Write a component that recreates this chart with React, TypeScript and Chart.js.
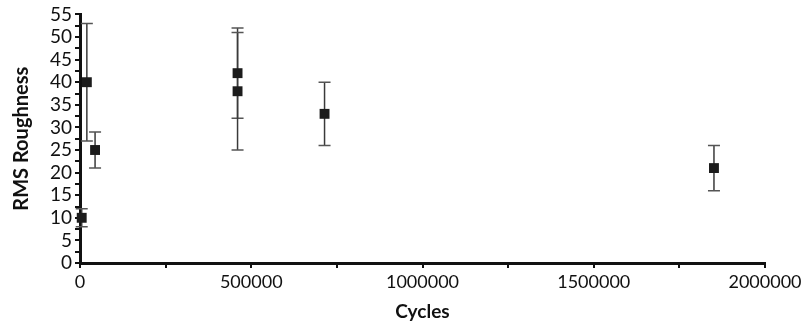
import React, { useEffect, useRef } from "react";
import { Chart, registerables } from "chart.js";

Chart.register(...registerables);

const cycles = [5000, 20000, 44000, 460000, 460000, 714000, 1851000];
const roughness = [10, 40, 25, 42, 38, 33, 21];
const errLow = [8, 27, 21, 32, 25, 26, 16];
const errHigh = [12, 53, 29, 52, 51, 40, 26];

const xTickStep = 250000;
const xLabelStep = 500000;
const yTickStep = 2.5;
const yLabelStep = 5;

const FONT = "Lato, 'DejaVu Sans', sans-serif";

const errorBarPlugin = {
  id: "errorBars",
  beforeDatasetsDraw(chart: any) {
    const { ctx, scales } = chart;
    const xs = scales.x;
    const ys = scales.y;
    ctx.save();
    for (let i = 0; i < cycles.length; i++) {
      const px = xs.getPixelForValue(cycles[i]);
      const pLo = ys.getPixelForValue(errLow[i]);
      const pHi = ys.getPixelForValue(errHigh[i]);
      ctx.strokeStyle = "#3a3a3a";
      ctx.lineWidth = 1.5;
      ctx.beginPath();
      ctx.moveTo(px, pLo);
      ctx.lineTo(px, pHi);
      ctx.stroke();
      ctx.strokeStyle = "#555";
      ctx.lineWidth = 1.5;
      ctx.beginPath();
      ctx.moveTo(px - 6, pLo);
      ctx.lineTo(px + 6, pLo);
      ctx.moveTo(px - 6, pHi);
      ctx.lineTo(px + 6, pHi);
      ctx.stroke();
    }
    ctx.restore();
  },
};

export default function App() {
  const ref = useRef<HTMLCanvasElement | null>(null);
  useEffect(() => {
    document.body.style.margin = "0";
    const canvas = ref.current;
    if (!canvas) return;
    const chart = new Chart(canvas, {
      type: "scatter",
      data: {
        datasets: [
          {
            data: cycles.map((c, i) => ({ x: c, y: roughness[i] })),
            pointStyle: "rect",
            pointRadius: 7,
            pointHoverRadius: 7,
            backgroundColor: "#1c1c1c",
            borderColor: "#1c1c1c",
            borderWidth: 0,
            clip: false,
          } as any,
        ],
      },
      options: {
        responsive: false,
        animation: false,
        layout: { padding: { left: 6, top: 14, right: 41, bottom: 3 } },
        plugins: {
          legend: { display: false },
          tooltip: { enabled: false },
        },
        scales: {
          x: {
            type: "linear",
            min: 0,
            max: 2000000,
            afterFit: (s: any) => {
              s.height = 64;
            },
            border: { display: true, color: "#111", width: 3 },
            grid: {
              display: true,
              drawOnChartArea: false,
              drawTicks: true,
              tickLength: 5,
              color: "#111",
              lineWidth: 2,
            },
            ticks: {
              stepSize: xTickStep,
              autoSkip: false,
              maxRotation: 0,
              color: "#111",
              padding: 3,
              font: { family: FONT, size: 18 },
              callback: (v: any) => (Number(v) % xLabelStep === 0 ? String(v) : ""),
            },
            title: {
              display: true,
              text: "Cycles",
              color: "#111",
              font: { family: FONT, size: 19, weight: "bold" },
              padding: { top: 2, bottom: 4 },
            },
          },
          y: {
            type: "linear",
            min: 0,
            max: 55,
            afterFit: (s: any) => {
              s.width = 74;
            },
            border: { display: true, color: "#111", width: 3 },
            grid: {
              display: true,
              drawOnChartArea: false,
              drawTicks: true,
              tickLength: 5,
              color: "#111",
              lineWidth: 2,
            },
            ticks: {
              stepSize: yTickStep,
              autoSkip: false,
              color: "#111",
              padding: 3,
              font: { family: FONT, size: 19 },
              callback: (v: any) => (Number(v) % yLabelStep === 0 ? String(v) : ""),
            },
            title: {
              display: true,
              text: "RMS Roughness",
              color: "#111",
              font: { family: FONT, size: 20, weight: "bold" },
              padding: { top: 4, bottom: 4 },
            },
          },
        },
      },
      plugins: [errorBarPlugin],
    });
    return () => chart.destroy();
  }, []);
  return (
    <div style={{ width: 806, height: 330 }}>
      <canvas ref={ref} width={806} height={330} />
    </div>
  );
}
